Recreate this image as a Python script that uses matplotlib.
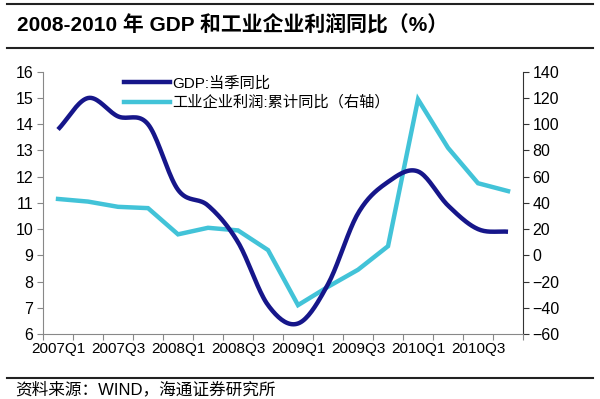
"""GDP vs industrial profit growth, 2007-2010."""

import matplotlib

matplotlib.use("Agg")
import matplotlib.pyplot as plt
import numpy as np

plt.rcParams["font.family"] = ["Liberation Sans", "Noto Sans CJK SC", "DejaVu Sans"]

quarters = [f"{y}Q{q}" for y in (2007, 2008, 2009, 2010) for q in (1, 2, 3, 4)]
gdp = [13.8, 15.0, 14.3, 14.0, 11.5, 10.9, 9.5, 7.1, 6.4, 7.9, 10.6, 11.8, 12.2, 10.9, 10.0, 9.9]
profit = [43, 41, 37, 36, 16, 21, 19, 4, -38, -24, -11, 7, 119, 82, 55, 49]

gdp_label = "GDP:当季同比"
profit_label = "工业企业利润:累计同比（右轴）"
title = "2008-2010 年 GDP 和工业企业利润同比（%）"
source = "资料来源：WIND，海通证券研究所"

navy = "#16168a"
cyan = "#42c3d8"


def smooth(y, n=20):
    # catmull-rom, roughly what excel does for "smoothed line"
    y = np.asarray(y, float)
    p = np.concatenate([[2 * y[0] - y[1]], y, [2 * y[-1] - y[-2]]])
    xs, ys = [], []
    for i in range(len(y) - 1):
        t = np.linspace(0, 1, n, endpoint=False)
        p0, p1, p2, p3 = p[i], p[i + 1], p[i + 2], p[i + 3]
        seg = 0.5 * (2 * p1 + (-p0 + p2) * t + (2 * p0 - 5 * p1 + 4 * p2 - p3) * t**2
                     + (-p0 + 3 * p1 - 3 * p2 + p3) * t**3)
        xs.append(i + t)
        ys.append(seg)
    xs.append([len(y) - 1])
    ys.append([y[-1]])
    return np.concatenate(xs), np.concatenate(ys)


fig = plt.figure(figsize=(6, 3.99), dpi=100)
ax = fig.add_axes([0.0717, 0.163, 0.80, 0.657])
ax2 = ax.twinx()

x = np.arange(len(quarters))
sx, sy = smooth(gdp)
ax.plot(sx, sy, color=navy, lw=3.2, solid_capstyle="butt", zorder=3)
ax2.plot(x, profit, color=cyan, lw=3.2, solid_joinstyle="miter", zorder=2)
ax.set_zorder(ax2.get_zorder() + 1)
ax.patch.set_visible(False)

ax.set_xlim(-0.5, len(quarters) - 0.5)
ax.set_ylim(6, 16)
ax.set_yticks(range(6, 17))
ax2.set_ylim(-60, 140)
ax2.set_yticks(range(-60, 141, 20))

ax.set_xticks(np.arange(-0.5, len(quarters), 1))
ax.set_xticklabels([])
ax.set_xticks(x[::2], minor=True)
ax.set_xticklabels(quarters[::2], minor=True)
ax.tick_params(axis="x", which="minor", length=0, pad=6, labelsize=11)
ax.tick_params(axis="x", which="major", length=4, color="#888888", direction="out")
ax.tick_params(axis="y", labelsize=11.5, length=4, color="#888888", pad=3)
ax2.tick_params(axis="y", labelsize=11.5, length=4, color="#333333", pad=3)

for a in (ax, ax2):
    a.spines["top"].set_visible(False)
ax.spines["left"].set_color("#888888")
ax.spines["bottom"].set_color("#888888")
ax.spines["right"].set_visible(False)
ax2.spines["left"].set_visible(False)
ax2.spines["bottom"].set_visible(False)
ax2.spines["right"].set_color("#333333")

h1 = plt.Line2D([], [], color=navy, lw=3.2)
h2 = plt.Line2D([], [], color=cyan, lw=3.2)
leg = ax.legend([h1, h2], [gdp_label, profit_label], loc="upper left",
                bbox_to_anchor=(0.14, 1.035), frameon=False, fontsize=11,
                handlelength=3.0, handletextpad=0.15, labelspacing=0.3)

fig.text(0.028, 0.94, title, fontsize=15, fontweight="bold", va="center",
         family=["Liberation Sans", "Noto Sans CJK SC"])
for yy in (0.99, 0.88, 0.053):
    fig.add_artist(plt.Line2D([0.012, 0.988], [yy, yy], color="#222222", lw=1.5,
                              transform=fig.transFigure))
fig.text(0.025, 0.025, source, fontsize=12, va="center")

fig.savefig("out.png", dpi=100)
